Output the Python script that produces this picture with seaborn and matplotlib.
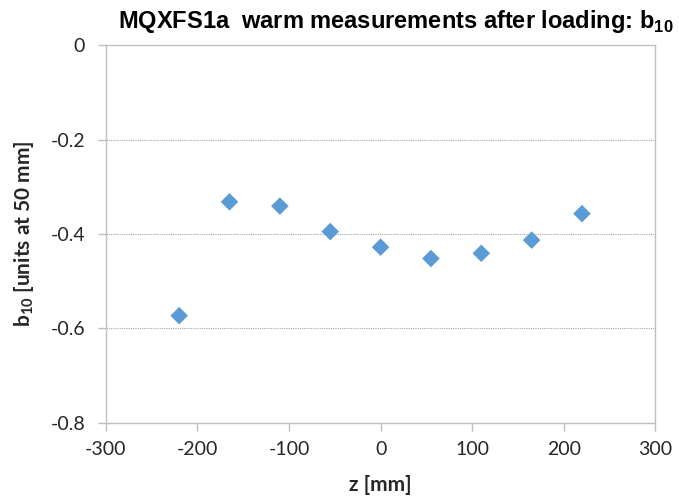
import matplotlib
matplotlib.use('Agg')
import matplotlib.pyplot as plt
import matplotlib.ticker as mticker
import pandas as pd
import seaborn as sns

# z positions [mm] and b10 values [units at 50 mm]
z_mm = [-220, -165, -110, -55, 0, 55, 110, 165, 220]
b10 = [-0.573, -0.332, -0.341, -0.395, -0.428, -0.452, -0.441, -0.413, -0.357]

x_ticks = [-300, -200, -100, 0, 100, 200, 300]
y_ticks = [-0.8, -0.6, -0.4, -0.2, 0.0]

df = pd.DataFrame({'z': z_mm, 'b10': b10})

sns.set_theme(style='white')
plt.rcParams['font.family'] = ['Lato', 'DejaVu Sans']
plt.rcParams['mathtext.fontset'] = 'custom'
plt.rcParams['mathtext.rm'] = 'Lato:bold'
plt.rcParams['mathtext.bf'] = 'Liberation Sans:bold'

fig = plt.figure(figsize=(6.79, 5.01), dpi=100)
ax = fig.add_axes([0.156, 0.156, 0.809, 0.754])

sns.scatterplot(data=df, x='z', y='b10', ax=ax, marker='D', s=80,
                color='#5b9bd5', edgecolor='none', zorder=3)

ax.set_xlim(-300, 300)
ax.set_ylim(-0.8, 0)
ax.set_xticks(x_ticks)
ax.set_yticks(y_ticks)
ax.yaxis.set_major_formatter(mticker.FuncFormatter(lambda v, _: '0' if abs(v) < 1e-9 else f'{v:.1f}'))
ax.xaxis.set_major_formatter(mticker.FuncFormatter(lambda v, _: f'{int(v)}'))

for yv in [-0.2, -0.4, -0.6]:
    ax.axhline(yv, color='#a6a6a6', linewidth=0.8, linestyle=(0, (1, 1)), zorder=1)

for sp in ax.spines.values():
    sp.set_color('#bfbfbf')
    sp.set_linewidth(1.0)

ax.tick_params(axis='both', which='major', direction='out', length=6, width=1,
               color='#bfbfbf', labelsize=14, labelcolor='#262626')
ax.tick_params(axis='y', pad=9)
ax.tick_params(axis='x', pad=7)
ax.tick_params(axis='both', bottom=True, left=True)

ax.set_xlabel('z [mm]', fontsize=15, fontweight='bold', color='#262626', labelpad=12)
ax.set_ylabel('b$_{\\mathrm{10}}$ [units at 50 mm]', fontsize=15, fontweight='bold',
              color='#262626', labelpad=10)

fig.text(0.583, 0.957, 'MQXFS1a  warm measurements after loading: b$_{\\mathbf{10}}$',
         ha='center', va='center', fontsize=17, fontweight='bold',
         family=['Liberation Sans', 'DejaVu Sans'], color='black')

plt.savefig('out.png', dpi=100)
plt.close()
